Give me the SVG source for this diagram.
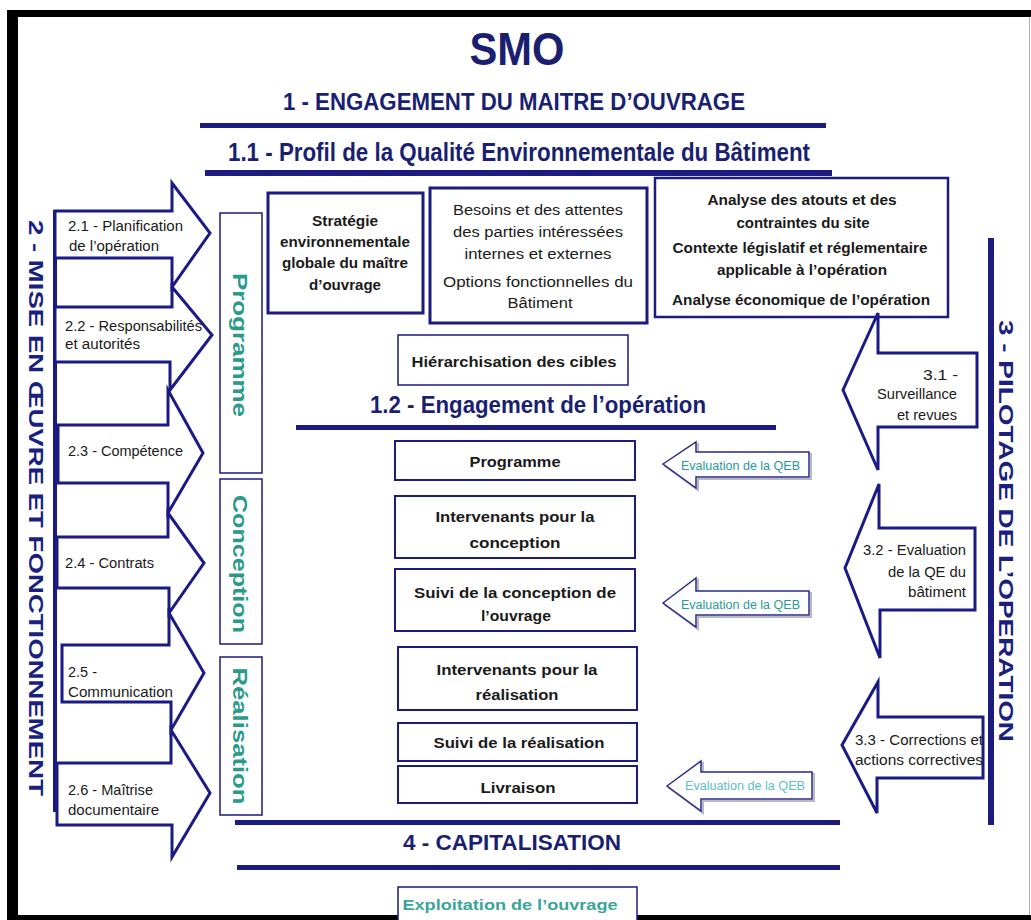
<svg xmlns="http://www.w3.org/2000/svg" width="1031" height="920" viewBox="0 0 1031 920">
<defs>
<style>
.ttl{font-family:"Liberation Sans Narrow","Liberation Sans",Arial,sans-serif;font-weight:bold;fill:#1a1f72}
.vt{font-family:"Liberation Sans",Arial,sans-serif;font-weight:bold;font-size:21px;fill:#1a1f80}
.box{fill:#fff;stroke:#1b1b80}
.arw{fill:#fff;stroke:#1b1b85;stroke-width:3;stroke-linejoin:miter}
.ev{fill:#fff;stroke:#2a2a88;stroke-width:1.5}
.evs{fill:none;stroke:#b8b8c8;stroke-width:2}
.lbl{font-family:"Liberation Sans Narrow","Liberation Sans",Arial,sans-serif;font-size:14px;fill:#1a1a1a}
.bl{font-weight:bold}
.tl{font-family:"Liberation Sans",Arial,sans-serif;font-weight:bold;font-size:20px;fill:#2a9a8c}
.evt{font-family:"Liberation Sans Narrow","Liberation Sans",Arial,sans-serif;font-size:12px;fill:#2a9a98}
.bar{fill:#1b1b80}
</style>
</defs>
<rect width="1031" height="920" fill="#fff"/>
<g id="frame">
<rect x="7" y="10" width="1024" height="7" fill="#000"/>
<rect x="7" y="10" width="11" height="910" fill="#000"/>
<rect x="7" y="915" width="1024" height="5" fill="#000"/>
<line x1="1029.5" y1="17" x2="1029.5" y2="915" stroke="#b0b0b0" stroke-width="1"/>
</g>
<g id="titles">
<text class="ttl" x="517" y="65" font-size="46" text-anchor="middle" textLength="95" lengthAdjust="spacingAndGlyphs">SMO</text>
<text class="ttl" x="514" y="110" font-size="23" text-anchor="middle" textLength="462" lengthAdjust="spacingAndGlyphs">1 - ENGAGEMENT DU MAITRE D’OUVRAGE</text>
<rect class="bar" x="200" y="123" width="626" height="5"/>
<text class="ttl" x="519" y="161" font-size="25" text-anchor="middle" textLength="582" lengthAdjust="spacingAndGlyphs">1.1 - Profil de la Qualité Environnementale du Bâtiment</text>
<rect class="bar" x="205" y="170" width="627" height="6"/>
<text class="ttl" x="538" y="413" font-size="24" text-anchor="middle" textLength="336" lengthAdjust="spacingAndGlyphs">1.2 - Engagement de l’opération</text>
<rect class="bar" x="296" y="425" width="480" height="5"/>
<rect class="bar" x="235" y="820" width="605" height="5"/>
<text class="ttl" x="512" y="850" font-size="22" text-anchor="middle" textLength="218" lengthAdjust="spacingAndGlyphs">4 - CAPITALISATION</text>
<rect class="bar" x="237" y="865" width="603" height="5"/>
</g>
<g id="section2">
<rect class="bar" x="53" y="210" width="4" height="602"/>
<text class="vt" transform="translate(29,220) rotate(90)" textLength="576" lengthAdjust="spacingAndGlyphs">2 - MISE EN ŒUVRE ET FONCTIONNEMENT</text>
</g>
<g id="arrow-2-1">
<path class="arw" d="M55,211 H172 V183 L210,233 L172,287 V258 H55 Z"/>
<text class="lbl" x="68" y="231" textLength="115" lengthAdjust="spacingAndGlyphs">2.1 - Planification</text>
<text class="lbl" x="69" y="251" textLength="90" lengthAdjust="spacingAndGlyphs">de l’opération</text>
</g>
<g id="arrow-2-2">
<path class="arw" d="M55,307 H172 V287 L212,335 L170,390 V362 H55 Z"/>
<text class="lbl" x="65" y="331" textLength="137" lengthAdjust="spacingAndGlyphs">2.2 - Responsabilités</text>
<text class="lbl" x="65" y="349" textLength="75" lengthAdjust="spacingAndGlyphs">et autorités</text>
</g>
<g id="arrow-2-3">
<path class="arw" d="M58,425 H168 V390 L203,453 L168,513 V483 H58 Z"/>
<text class="lbl" x="68" y="456" textLength="115" lengthAdjust="spacingAndGlyphs">2.3 - Compétence</text>
</g>
<g id="arrow-2-4">
<path class="arw" d="M57,537 H168 V513 L204,563 L169,613 V588 H57 Z"/>
<text class="lbl" x="65" y="568" textLength="89" lengthAdjust="spacingAndGlyphs">2.4 - Contrats</text>
</g>
<g id="arrow-2-5">
<path class="arw" d="M62,645 H169 V613 L204,673 L171,730 V702 H62 Z"/>
<text class="lbl" x="68" y="677" textLength="29" lengthAdjust="spacingAndGlyphs">2.5 -</text>
<text class="lbl" x="68" y="697" textLength="105" lengthAdjust="spacingAndGlyphs">Communication</text>
</g>
<g id="arrow-2-6">
<path class="arw" d="M57,763 H171 V730 L210,793 L172,857 V825 H57 Z"/>
<text class="lbl" x="68" y="795" textLength="85" lengthAdjust="spacingAndGlyphs">2.6 - Maîtrise</text>
<text class="lbl" x="68" y="815" textLength="91" lengthAdjust="spacingAndGlyphs">documentaire</text>
</g>
<g id="phase-programme">
<rect class="box" x="220" y="213" width="42" height="260" stroke-width="1.5"/>
<text class="tl" transform="translate(233,345) rotate(90)" text-anchor="middle" textLength="144" lengthAdjust="spacingAndGlyphs">Programme</text>
</g>
<g id="phase-conception">
<rect class="box" x="220" y="479" width="42" height="165" stroke-width="1.5"/>
<text class="tl" transform="translate(233,564) rotate(90)" text-anchor="middle" textLength="138" lengthAdjust="spacingAndGlyphs">Conception</text>
</g>
<g id="phase-realisation">
<rect class="box" x="220" y="657" width="42" height="158" stroke-width="1.5"/>
<text class="tl" transform="translate(233,736) rotate(90)" text-anchor="middle" textLength="137" lengthAdjust="spacingAndGlyphs">Réalisation</text>
</g>
<g id="box-strategie">
<rect class="box" x="268" y="193" width="155" height="120" stroke-width="3"/>
<g class="lbl bl" font-size="15" text-anchor="middle">
<text x="345" y="226" textLength="66" lengthAdjust="spacingAndGlyphs">Stratégie</text>
<text x="345" y="247" textLength="130" lengthAdjust="spacingAndGlyphs">environnementale</text>
<text x="345" y="268" textLength="126" lengthAdjust="spacingAndGlyphs">globale du maître</text>
<text x="345" y="290" textLength="72" lengthAdjust="spacingAndGlyphs">d’ouvrage</text>
</g>
</g>
<g id="box-besoins">
<rect class="box" x="430" y="188" width="217" height="135" stroke-width="3"/>
<g class="lbl" font-size="15" text-anchor="middle">
<text x="538" y="215" textLength="170" lengthAdjust="spacingAndGlyphs">Besoins et des attentes</text>
<text x="538" y="237" textLength="170" lengthAdjust="spacingAndGlyphs">des parties intéressées</text>
<text x="538" y="259" textLength="147" lengthAdjust="spacingAndGlyphs">internes et externes</text>
<text x="538" y="287" textLength="190" lengthAdjust="spacingAndGlyphs">Options fonctionnelles du</text>
<text x="540" y="308" textLength="65" lengthAdjust="spacingAndGlyphs">Bâtiment</text>
</g>
</g>
<g id="box-analyse">
<rect class="box" x="655" y="178" width="293" height="139" stroke-width="2.5"/>
<g class="lbl bl" font-size="15" text-anchor="middle">
<text x="802" y="205" textLength="189" lengthAdjust="spacingAndGlyphs">Analyse des atouts et des</text>
<text x="803" y="228" textLength="133" lengthAdjust="spacingAndGlyphs">contraintes du site</text>
<text x="800" y="253" textLength="255" lengthAdjust="spacingAndGlyphs">Contexte législatif et réglementaire</text>
<text x="802" y="275" textLength="170" lengthAdjust="spacingAndGlyphs">applicable à l’opération</text>
<text x="801" y="305" textLength="258" lengthAdjust="spacingAndGlyphs">Analyse économique de l’opération</text>
</g>
</g>
<g id="box-hierarchisation">
<rect class="box" x="398" y="335" width="230" height="50" stroke-width="1.5" stroke="#3a3a90"/>
<text class="lbl bl" x="514" y="367" font-size="15" text-anchor="middle" textLength="205" lengthAdjust="spacingAndGlyphs">Hiérarchisation des cibles</text>
</g>
<g id="box-programme">
<rect class="box" x="395" y="441" width="240" height="39" stroke-width="2"/>
<text class="lbl bl" x="515" y="467" font-size="16" text-anchor="middle" textLength="91" lengthAdjust="spacingAndGlyphs">Programme</text>
</g>
<g id="box-intervenants-conception">
<rect class="box" x="395" y="496" width="240" height="62" stroke-width="2"/>
<text class="lbl bl" x="515" y="522" font-size="16" text-anchor="middle" textLength="159" lengthAdjust="spacingAndGlyphs">Intervenants pour la</text>
<text class="lbl bl" x="515" y="548" font-size="16" text-anchor="middle" textLength="91" lengthAdjust="spacingAndGlyphs">conception</text>
</g>
<g id="box-suivi-conception">
<rect class="box" x="395" y="569" width="240" height="62" stroke-width="2"/>
<text class="lbl bl" x="515" y="598" font-size="16" text-anchor="middle" textLength="202" lengthAdjust="spacingAndGlyphs">Suivi de la conception de</text>
<text class="lbl bl" x="516" y="621" font-size="16" text-anchor="middle" textLength="70" lengthAdjust="spacingAndGlyphs">l’ouvrage</text>
</g>
<g id="box-intervenants-realisation">
<rect class="box" x="398" y="647" width="239" height="63" stroke-width="2"/>
<text class="lbl bl" x="517" y="675" font-size="16" text-anchor="middle" textLength="161" lengthAdjust="spacingAndGlyphs">Intervenants pour la</text>
<text class="lbl bl" x="517" y="700" font-size="16" text-anchor="middle" textLength="83" lengthAdjust="spacingAndGlyphs">réalisation</text>
</g>
<g id="box-suivi-realisation">
<rect class="box" x="398" y="723" width="239" height="38" stroke-width="2"/>
<text class="lbl bl" x="519" y="748" font-size="16" text-anchor="middle" textLength="171" lengthAdjust="spacingAndGlyphs">Suivi de la réalisation</text>
</g>
<g id="box-livraison">
<rect class="box" x="398" y="766" width="239" height="37" stroke-width="2"/>
<text class="lbl bl" x="518" y="793" font-size="16" text-anchor="middle" textLength="75" lengthAdjust="spacingAndGlyphs">Livraison</text>
</g>
<g id="box-exploitation">
<rect class="box" x="398" y="887" width="239" height="40" stroke-width="1.5"/>
<text class="lbl bl" x="510" y="910" font-size="15" text-anchor="middle" style="fill:#3aa59a" textLength="215" lengthAdjust="spacingAndGlyphs">Exploitation de l’ouvrage</text>
</g>
<g id="eval-1">
<path class="evs" d="M665,466 L698,444 V454 H811 V479 H698 V490 Z"/>
<path class="ev" d="M663,464 L696,442 V452 H809 V477 H696 V488 Z"/>
<text class="evt" x="681" y="470" textLength="119" lengthAdjust="spacingAndGlyphs">Evaluation de la QEB</text>
</g>
<g id="eval-2">
<path class="evs" d="M665,605 L698,580 V593 H811 V617 H698 V629 Z"/>
<path class="ev" d="M663,603 L696,578 V591 H809 V615 H696 V627 Z"/>
<text class="evt" x="681" y="609" textLength="119" lengthAdjust="spacingAndGlyphs">Evaluation de la QEB</text>
</g>
<g id="eval-3">
<path class="evs" d="M669,788 L703,763 V774 H814 V801 H703 V813 Z"/>
<path class="ev" d="M667,786 L701,761 V772 H812 V799 H701 V811 Z"/>
<text class="evt" x="685" y="790" textLength="120" lengthAdjust="spacingAndGlyphs" style="fill:#5bbfc4">Evaluation de la QEB</text>
</g>
<g id="section3">
<rect class="bar" x="988" y="238" width="6" height="587"/>
<text class="vt" transform="translate(999,320) rotate(90)" textLength="422" lengthAdjust="spacingAndGlyphs">3 - PILOTAGE DE L’OPERATION</text>
</g>
<g id="arrow-3-1">
<path class="arw" d="M977,353 H878 V313 L843,390 L878,470 V427 H977 Z"/>
<g class="lbl" text-anchor="end">
<text x="958" y="380" textLength="35" lengthAdjust="spacingAndGlyphs">3.1 -</text>
<text x="957" y="399" textLength="80" lengthAdjust="spacingAndGlyphs">Surveillance</text>
<text x="957" y="420" textLength="60" lengthAdjust="spacingAndGlyphs">et revues</text>
</g>
</g>
<g id="arrow-3-2">
<path class="arw" d="M975,528 H879 V484 L845,568 L880,658 V610 H975 Z"/>
<g class="lbl" text-anchor="end">
<text x="966" y="555" textLength="103" lengthAdjust="spacingAndGlyphs">3.2 - Evaluation</text>
<text x="966" y="577" textLength="78" lengthAdjust="spacingAndGlyphs">de la QE du</text>
<text x="966" y="597" textLength="58" lengthAdjust="spacingAndGlyphs">bâtiment</text>
</g>
</g>
<g id="arrow-3-3">
<path class="arw" d="M983,717 H878 V682 L842,745 L877,813 V778 H983 Z"/>
<text class="lbl" x="855" y="745" textLength="128" lengthAdjust="spacingAndGlyphs">3.3 - Corrections et</text>
<text class="lbl" x="855" y="765" textLength="128" lengthAdjust="spacingAndGlyphs">actions correctives</text>
</g>
<g id="connectors"></g>
</svg>
